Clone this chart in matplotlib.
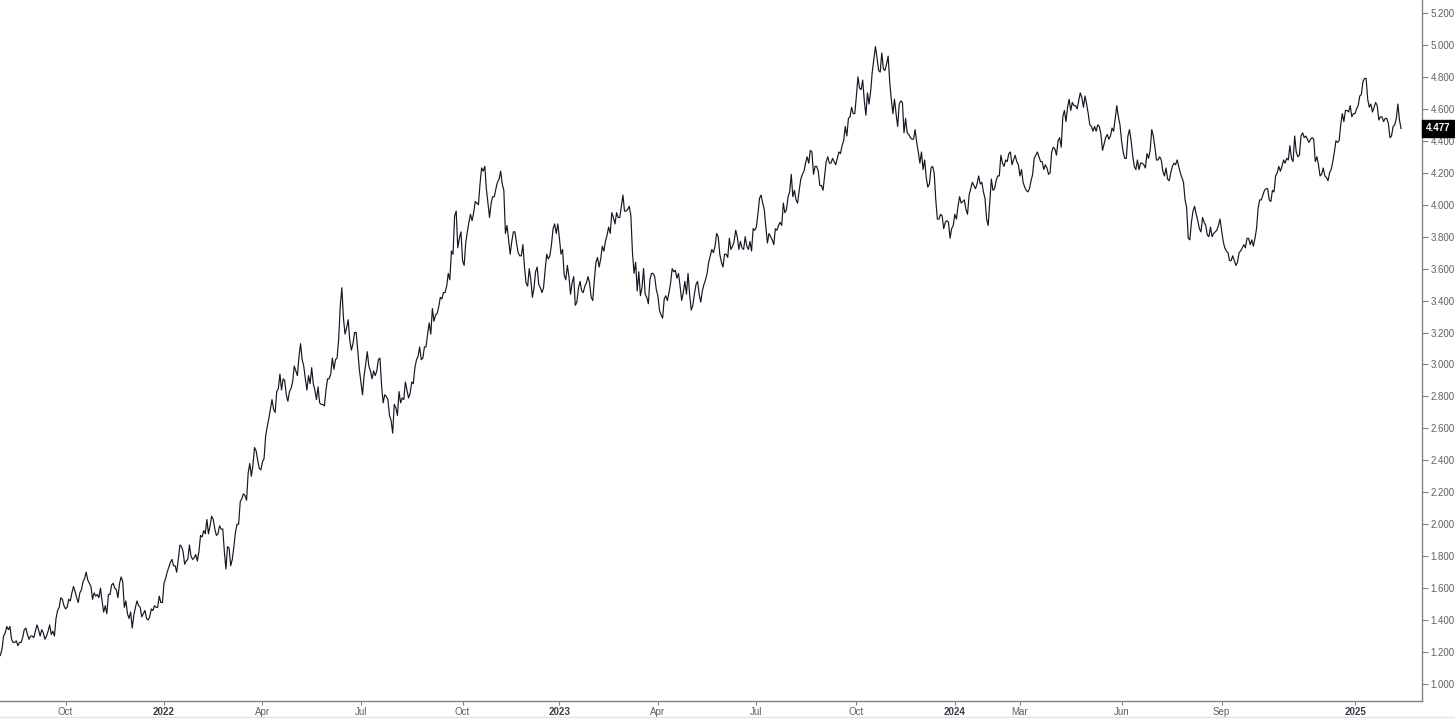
import numpy as np
import matplotlib
matplotlib.use("Agg")
import matplotlib.pyplot as plt
from matplotlib.transforms import blended_transform_factory

# ---- data: daily closes, grouped by month (Aug 2021 .. Feb 2025) ----
months_2021 = [8, 9, 10, 11, 12]
yield_2021 = [
    [1.17, 1.17, 1.18, 1.22, 1.30, 1.32, 1.36, 1.34, 1.36, 1.28, 1.26, 1.26, 1.27, 1.24, 1.26, 1.26, 1.29, 1.34, 1.35, 1.31, 1.28, 1.30],
    [1.30, 1.29, 1.33, 1.37, 1.34, 1.30, 1.34, 1.32, 1.28, 1.30, 1.33, 1.37, 1.31, 1.33, 1.30, 1.41, 1.46, 1.48, 1.54, 1.53, 1.49],
    [1.47, 1.48, 1.53, 1.52, 1.57, 1.61, 1.58, 1.54, 1.51, 1.57, 1.59, 1.64, 1.66, 1.70, 1.65, 1.63, 1.61, 1.53, 1.57, 1.55],
    [1.56, 1.54, 1.60, 1.52, 1.45, 1.49, 1.44, 1.56, 1.56, 1.62, 1.63, 1.60, 1.59, 1.54, 1.63, 1.67, 1.64, 1.48, 1.52, 1.44],
    [1.41, 1.45, 1.35, 1.43, 1.48, 1.52, 1.49, 1.48, 1.42, 1.44, 1.46, 1.41, 1.40, 1.42, 1.47, 1.46, 1.49, 1.48, 1.48, 1.55, 1.51, 1.51],
]

months_2022 = list(range(1, 13))
yield_2022 = [
    [1.63, 1.66, 1.70, 1.73, 1.76, 1.78, 1.74, 1.74, 1.70, 1.78, 1.87, 1.86, 1.83, 1.75, 1.77, 1.78, 1.87, 1.80, 1.78, 1.79],
    [1.81, 1.77, 1.83, 1.93, 1.92, 1.96, 1.94, 2.03, 1.94, 1.99, 2.05, 2.03, 1.97, 1.93, 1.94, 1.99, 1.97, 1.97, 1.83],
    [1.72, 1.86, 1.85, 1.74, 1.78, 1.86, 1.95, 2.00, 2.00, 2.14, 2.16, 2.19, 2.18, 2.15, 2.32, 2.38, 2.30, 2.37, 2.48, 2.46, 2.40, 2.35, 2.34],
    [2.39, 2.41, 2.55, 2.61, 2.66, 2.72, 2.78, 2.72, 2.70, 2.83, 2.85, 2.94, 2.84, 2.91, 2.90, 2.81, 2.77, 2.83, 2.85, 2.89],
    [2.99, 2.96, 2.93, 3.05, 3.13, 3.03, 2.99, 2.91, 2.84, 2.93, 2.88, 2.98, 2.88, 2.84, 2.78, 2.86, 2.76, 2.75, 2.75, 2.74, 2.84],
    [2.91, 2.91, 2.94, 3.04, 2.97, 3.03, 3.04, 3.16, 3.37, 3.48, 3.29, 3.19, 3.23, 3.28, 3.15, 3.09, 3.13, 3.20, 3.20, 3.09, 2.97],
    [2.89, 2.81, 2.93, 3.00, 3.08, 2.99, 2.96, 2.91, 2.96, 2.93, 2.96, 3.03, 3.04, 2.87, 2.76, 2.81, 2.80, 2.78, 2.68, 2.65],
    [2.57, 2.75, 2.73, 2.68, 2.83, 2.76, 2.79, 2.78, 2.89, 2.84, 2.79, 2.82, 2.89, 2.88, 2.98, 3.03, 3.05, 3.11, 3.03, 3.04, 3.11, 3.11, 3.19],
    [3.26, 3.19, 3.35, 3.27, 3.31, 3.32, 3.36, 3.42, 3.41, 3.45, 3.45, 3.49, 3.57, 3.53, 3.71, 3.69, 3.93, 3.96, 3.73, 3.79, 3.83],
    [3.65, 3.62, 3.76, 3.83, 3.89, 3.94, 3.90, 3.95, 4.02, 4.01, 4.00, 4.13, 4.23, 4.21, 4.24, 4.10, 4.01, 3.92, 4.01, 4.05],
    [4.05, 4.10, 4.14, 4.16, 4.21, 4.13, 4.09, 3.82, 3.87, 3.78, 3.69, 3.77, 3.83, 3.83, 3.76, 3.70, 3.68, 3.68, 3.75, 3.61],
    [3.51, 3.49, 3.60, 3.53, 3.42, 3.48, 3.58, 3.61, 3.50, 3.48, 3.45, 3.48, 3.59, 3.69, 3.66, 3.68, 3.75, 3.85, 3.88, 3.82, 3.88],
]

months_2023 = list(range(1, 13))
yield_2023 = [
    [3.79, 3.69, 3.72, 3.56, 3.53, 3.62, 3.55, 3.44, 3.51, 3.55, 3.37, 3.39, 3.48, 3.52, 3.46, 3.45, 3.49, 3.51, 3.55, 3.51],
    [3.42, 3.40, 3.53, 3.64, 3.67, 3.61, 3.66, 3.74, 3.71, 3.77, 3.81, 3.86, 3.82, 3.95, 3.92, 3.88, 3.95, 3.92, 3.92],
    [3.99, 4.06, 3.96, 3.96, 3.97, 3.99, 3.93, 3.70, 3.57, 3.64, 3.46, 3.58, 3.43, 3.48, 3.60, 3.44, 3.42, 3.38, 3.53, 3.57, 3.57, 3.55, 3.47],
    [3.43, 3.34, 3.31, 3.29, 3.41, 3.43, 3.40, 3.45, 3.51, 3.60, 3.58, 3.59, 3.54, 3.57, 3.49, 3.40, 3.45, 3.52, 3.44],
    [3.57, 3.44, 3.34, 3.37, 3.44, 3.50, 3.52, 3.44, 3.39, 3.46, 3.50, 3.53, 3.57, 3.64, 3.68, 3.72, 3.70, 3.74, 3.82, 3.80, 3.69, 3.64],
    [3.61, 3.69, 3.69, 3.67, 3.79, 3.72, 3.74, 3.77, 3.84, 3.80, 3.72, 3.77, 3.73, 3.72, 3.80, 3.74, 3.72, 3.77, 3.71, 3.85, 3.84],
    [3.86, 3.94, 4.04, 4.06, 4.01, 3.97, 3.86, 3.76, 3.82, 3.80, 3.78, 3.75, 3.85, 3.84, 3.87, 3.89, 3.87, 4.01, 3.95, 3.97],
    [4.05, 4.08, 4.19, 4.05, 4.09, 4.03, 4.01, 4.09, 4.16, 4.19, 4.21, 4.26, 4.30, 4.26, 4.34, 4.33, 4.19, 4.24, 4.24, 4.21, 4.12, 4.12, 4.09],
    [4.18, 4.27, 4.30, 4.26, 4.26, 4.29, 4.27, 4.25, 4.29, 4.33, 4.32, 4.37, 4.40, 4.49, 4.43, 4.54, 4.55, 4.61, 4.57, 4.57],
    [4.68, 4.80, 4.73, 4.72, 4.78, 4.65, 4.56, 4.70, 4.63, 4.71, 4.83, 4.91, 4.99, 4.92, 4.84, 4.83, 4.95, 4.85, 4.84, 4.88, 4.93],
    [4.77, 4.66, 4.57, 4.66, 4.57, 4.49, 4.63, 4.65, 4.64, 4.45, 4.54, 4.45, 4.44, 4.42, 4.41, 4.41, 4.47, 4.39, 4.33, 4.26, 4.33],
    [4.22, 4.28, 4.17, 4.11, 4.13, 4.23, 4.24, 4.20, 4.03, 3.91, 3.91, 3.94, 3.93, 3.85, 3.89, 3.90, 3.89, 3.79, 3.85, 3.87],
]

months_2024 = list(range(1, 13))
yield_2024 = [
    [3.94, 3.91, 3.99, 4.05, 4.01, 4.02, 4.03, 3.97, 3.94, 4.06, 4.10, 4.14, 4.12, 4.10, 4.13, 4.18, 4.13, 4.14, 4.08, 4.04, 3.91],
    [3.87, 4.02, 4.16, 4.09, 4.10, 4.15, 4.18, 4.18, 4.31, 4.26, 4.24, 4.28, 4.27, 4.32, 4.33, 4.25, 4.28, 4.31, 4.27, 4.25],
    [4.18, 4.22, 4.14, 4.11, 4.09, 4.08, 4.10, 4.15, 4.19, 4.29, 4.31, 4.33, 4.30, 4.27, 4.27, 4.22, 4.25, 4.23, 4.19, 4.20],
    [4.33, 4.36, 4.35, 4.31, 4.40, 4.42, 4.36, 4.55, 4.59, 4.52, 4.61, 4.66, 4.59, 4.64, 4.62, 4.62, 4.60, 4.65, 4.70, 4.67, 4.61, 4.68],
    [4.63, 4.57, 4.50, 4.49, 4.46, 4.49, 4.46, 4.50, 4.49, 4.44, 4.34, 4.38, 4.42, 4.44, 4.41, 4.43, 4.48, 4.46, 4.54, 4.62, 4.55, 4.50],
    [4.40, 4.33, 4.29, 4.29, 4.43, 4.47, 4.40, 4.31, 4.24, 4.22, 4.28, 4.22, 4.26, 4.26, 4.25, 4.23, 4.32, 4.29, 4.34],
    [4.47, 4.43, 4.36, 4.28, 4.28, 4.30, 4.28, 4.21, 4.18, 4.23, 4.16, 4.15, 4.20, 4.24, 4.26, 4.25, 4.28, 4.24, 4.20, 4.17, 4.14, 4.03],
    [3.98, 3.79, 3.78, 3.89, 3.96, 3.99, 3.94, 3.90, 3.85, 3.83, 3.92, 3.89, 3.87, 3.81, 3.80, 3.86, 3.80, 3.82, 3.83, 3.84, 3.87, 3.91],
    [3.84, 3.77, 3.73, 3.71, 3.70, 3.65, 3.65, 3.68, 3.65, 3.62, 3.64, 3.70, 3.71, 3.73, 3.75, 3.73, 3.79, 3.79, 3.75, 3.78],
    [3.74, 3.79, 3.85, 3.98, 4.03, 4.03, 4.06, 4.09, 4.10, 4.10, 4.03, 4.02, 4.09, 4.08, 4.18, 4.20, 4.24, 4.21, 4.24, 4.28, 4.26, 4.29, 4.28],
    [4.37, 4.29, 4.27, 4.43, 4.33, 4.30, 4.31, 4.43, 4.45, 4.42, 4.43, 4.41, 4.39, 4.41, 4.42, 4.41, 4.27, 4.30, 4.25, 4.18],
    [4.19, 4.23, 4.18, 4.17, 4.15, 4.20, 4.22, 4.27, 4.33, 4.40, 4.39, 4.40, 4.50, 4.57, 4.52, 4.59, 4.59, 4.58, 4.62, 4.55, 4.57],
]

months_2025 = [1, 2]
yield_2025 = [
    [4.57, 4.60, 4.62, 4.68, 4.69, 4.77, 4.79, 4.79, 4.66, 4.61, 4.63, 4.58, 4.61, 4.64, 4.62, 4.53, 4.55, 4.55, 4.52, 4.54],
    [4.54, 4.51, 4.42, 4.43, 4.49, 4.50, 4.54, 4.63, 4.53, 4.477],
]

tick_months = [(2021, 10), (2022, 1), (2022, 4), (2022, 7), (2022, 10), (2023, 1), (2023, 4),
               (2023, 7), (2023, 10), (2024, 1), (2024, 3), (2024, 6), (2024, 9), (2025, 1)]
tick_labels = ["Oct", "2022", "Apr", "Jul", "Oct", "2023", "Apr", "Jul", "Oct", "2024",
               "Mar", "Jun", "Sep", "2025"]
y_ticks = [1.0, 1.2, 1.4, 1.6, 1.8, 2.0, 2.2, 2.4, 2.6, 2.8, 3.0, 3.2, 3.4, 3.6, 3.8,
           4.0, 4.2, 4.4, 4.6, 4.8, 5.0, 5.2]
last_label = "4.477"

# ---- assemble bar-indexed series ----
values = []
month_start = {}
for year, months, data in [(2021, months_2021, yield_2021), (2022, months_2022, yield_2022),
                           (2023, months_2023, yield_2023), (2024, months_2024, yield_2024),
                           (2025, months_2025, yield_2025)]:
    for m, vals in zip(months, data):
        month_start[(year, m)] = len(values)
        values.extend(vals)
values = np.array(values)
idx = np.arange(len(values))
tick_idx = np.array([month_start[k] for k in tick_months])

# ---- figure ----
W, H = 1455, 719
AX_W = 1422
fig = plt.figure(figsize=(W / 100, H / 100), dpi=100)
fig.patch.set_facecolor("white")
ax = fig.add_axes([0, (H - 701) / H, AX_W / W, 701 / H])
ax.set_facecolor("white")

ax.plot(idx, values, color="#131722", lw=0.85, solid_joinstyle="round")

# x scaling calibrated so the 2022 and 2025 year ticks land where the reference has them
i22 = month_start[(2022, 1)]
i25 = month_start[(2025, 1)]
ppb = (1355 - 164) / (i25 - i22)
x0 = i22 - 164 / ppb
ax.set_xlim(x0, x0 + AX_W / ppb)
ax.set_ylim(0.8935, 5.2813)

text_col = "#5d6068"
for s in ["left", "top"]:
    ax.spines[s].set_visible(False)
for s in ["right", "bottom"]:
    ax.spines[s].set_color("#80838a")
    ax.spines[s].set_linewidth(1.0)

ax.yaxis.tick_right()
ax.set_yticks(y_ticks)
ax.set_yticklabels([f"{v:.3f}" for v in y_ticks])
ax.tick_params(axis="y", direction="out", length=4, width=0.8, color="#80838a",
               pad=2, labelsize=7, labelcolor=text_col)

ax.set_xticks(tick_idx)
ax.set_xticklabels(tick_labels)
ax.tick_params(axis="x", direction="out", length=3, width=0.8, color="#80838a",
               pad=1.5, labelsize=7, labelcolor=text_col)
for lab in ax.get_xticklabels():
    lab.set_fontfamily("Liberation Sans")
    if lab.get_text().isdigit():
        lab.set_fontweight("bold")
        lab.set_color("#3a3d44")
for lab in ax.get_yticklabels():
    lab.set_fontfamily("Liberation Sans")

# last value marker
trans = blended_transform_factory(ax.transAxes, ax.transData)
ax.text(1.0 + 4 / AX_W, values[-1], last_label, transform=trans, ha="left", va="center",
        fontsize=7, fontweight="bold", color="white", family="Liberation Sans",
        bbox=dict(boxstyle="square,pad=0.4", fc="black", ec="black"), clip_on=False, zorder=5)

# bottom border line
fig.add_artist(plt.Line2D([0, 1], [2 / H, 2 / H], transform=fig.transFigure,
                          color="#e0e3eb", lw=1.0))

fig.savefig("out.png", dpi=100, facecolor="white")
